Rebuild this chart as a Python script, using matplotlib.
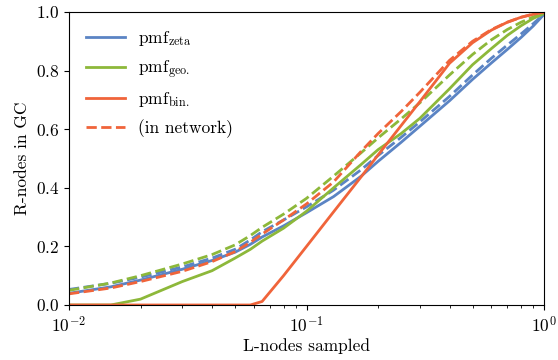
import matplotlib
matplotlib.use("Agg")
import matplotlib.pyplot as plt

plt.rcParams["font.family"] = "serif"
plt.rcParams["font.serif"] = ["cmr10", "DejaVu Serif"]
plt.rcParams["mathtext.fontset"] = "cm"
plt.rcParams["axes.formatter.use_mathtext"] = True
plt.rcParams["font.size"] = 12.5

## Values
l_sampled = [0.01, 0.015, 0.02, 0.03, 0.04, 0.05, 0.058, 0.065, 0.08, 0.1, 0.13,
             0.17, 0.2, 0.25, 0.3, 0.4, 0.5, 0.6, 0.7, 0.8, 0.9, 1.0]

zeta = [0.040, 0.062, 0.085, 0.122, 0.152, 0.180, 0.207, 0.232, 0.270, 0.315, 0.370,
        0.440, 0.490, 0.555, 0.610, 0.697, 0.770, 0.826, 0.872, 0.913, 0.952, 0.992]
zeta_net = [0.053, 0.074, 0.095, 0.130, 0.160, 0.190, 0.222, 0.250, 0.290, 0.335, 0.392,
            0.462, 0.510, 0.572, 0.625, 0.712, 0.785, 0.842, 0.887, 0.925, 0.960, 0.993]

geo = [0.0, 0.0, 0.020, 0.080, 0.117, 0.160, 0.190, 0.218, 0.262, 0.320, 0.400,
       0.480, 0.530, 0.585, 0.637, 0.738, 0.820, 0.875, 0.920, 0.953, 0.978, 0.995]
geo_net = [0.050, 0.075, 0.100, 0.140, 0.172, 0.205, 0.237, 0.265, 0.310, 0.364, 0.440,
           0.520, 0.570, 0.635, 0.690, 0.785, 0.855, 0.905, 0.940, 0.965, 0.983, 0.997]

binom = [0.0, 0.0, 0.0, 0.0, 0.0, 0.0, 0.0, 0.012, 0.100, 0.200, 0.318,
         0.438, 0.512, 0.612, 0.694, 0.825, 0.895, 0.938, 0.965, 0.982, 0.992, 1.0]
binom_net = [0.038, 0.058, 0.080, 0.115, 0.148, 0.182, 0.214, 0.242, 0.290, 0.345, 0.420,
             0.525, 0.585, 0.660, 0.726, 0.835, 0.900, 0.940, 0.965, 0.982, 0.993, 1.0]

C_ZETA = "#5b84c4"
C_GEO = "#8db83a"
C_BIN = "#f0643a"

fig = plt.figure(figsize=(5.58, 3.6), dpi=100)
ax = fig.add_axes([0.1237, 0.1528, 0.975 - 0.1237, 0.9667 - 0.1528])

ax.plot(l_sampled, zeta, color=C_ZETA, lw=2, label=r"pmf$_{\mathrm{zeta}}$")
ax.plot(l_sampled, zeta_net, color=C_ZETA, lw=2, ls="--")
ax.plot(l_sampled, geo, color=C_GEO, lw=2, label=r"pmf$_{\mathrm{geo.}}$")
ax.plot(l_sampled, geo_net, color=C_GEO, lw=2, ls="--")
ax.plot(l_sampled, binom, color=C_BIN, lw=2, label=r"pmf$_{\mathrm{bin.}}$")
ax.plot(l_sampled, binom_net, color=C_BIN, lw=2, ls="--", label="(in network)")

ax.set_xscale("log")
ax.set_xlim(1e-2, 1)
ax.set_ylim(0, 1)
ax.set_yticks([0, 0.2, 0.4, 0.6, 0.8, 1.0])
ax.set_xlabel("L-nodes sampled", labelpad=2)
ax.set_ylabel("R-nodes in GC")

ax.legend(loc="upper left", frameon=False, handlelength=2.2, borderaxespad=0.6,
          labelspacing=0.55)

fig.savefig("out.png", dpi=100)
